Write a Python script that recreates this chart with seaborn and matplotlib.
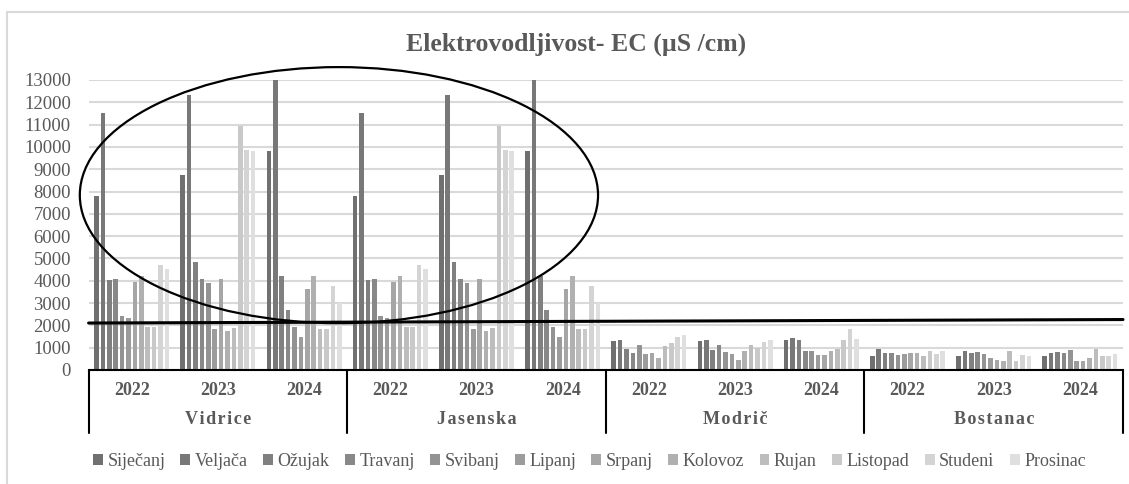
import pandas as pd
import matplotlib.pyplot as plt
import seaborn as sns
from matplotlib.patches import Ellipse, Rectangle
from matplotlib.lines import Line2D
import matplotlib.transforms as mtransforms

##############################################################
# Datos
##############################################################

sites = ['Vidrice', 'Jasenska', 'Modrič', 'Bostanac']
years = ['2022', '2023', '2024']
months = ['Siječanj', 'Veljača', 'Ožujak', 'Travanj', 'Svibanj', 'Lipanj',
          'Srpanj', 'Kolovoz', 'Rujan', 'Listopad', 'Studeni', 'Prosinac']

vidrice_2022 = [7800, 11500, 4050, 4100, 2400, 2320, 3950, 4200, 1950, 1950, 4700, 4550]
vidrice_2023 = [8750, 12350, 4850, 4100, 3880, 1850, 4080, 1760, 1880, 10950, 9850, 9820]
vidrice_2024 = [9830, 13030, 4200, 2680, 1950, 1480, 3650, 4200, 1850, 1850, 3760, 3000]

jasenska_2022 = [7800, 11500, 4050, 4100, 2400, 2320, 3950, 4200, 1950, 1950, 4700, 4550]
jasenska_2023 = [8750, 12350, 4850, 4100, 3880, 1850, 4080, 1760, 1880, 10950, 9850, 9820]
jasenska_2024 = [9830, 13030, 4200, 2680, 1950, 1480, 3650, 4200, 1850, 1850, 3760, 3000]

modric_2022 = [1320, 1350, 950, 740, 1110, 700, 740, 560, 1060, 1230, 1500, 1550]
modric_2023 = [1320, 1360, 880, 1110, 820, 700, 470, 830, 1110, 980, 1270, 1350]
modric_2024 = [1350, 1450, 1360, 830, 830, 670, 670, 860, 940, 1350, 1850, 1390]

bostanac_2022 = [610, 920, 760, 740, 670, 710, 760, 740, 610, 850, 710, 860]
bostanac_2023 = [610, 850, 740, 790, 700, 560, 470, 420, 860, 420, 670, 620]
bostanac_2024 = [610, 740, 790, 740, 880, 420, 420, 560, 920, 610, 610, 710]

values = {
    'Vidrice': [vidrice_2022, vidrice_2023, vidrice_2024],
    'Jasenska': [jasenska_2022, jasenska_2023, jasenska_2024],
    'Modrič': [modric_2022, modric_2023, modric_2024],
    'Bostanac': [bostanac_2022, bostanac_2023, bostanac_2024],
}

colors = ['#707070', '#787878', '#808080', '#888888', '#939393', '#9c9c9c',
          '#a6a6a6', '#b0b0b0', '#bdbdbd', '#c9c9c9', '#d4d4d4', '#dfdfdf']

rows = []
for s in sites:
    for yi, y in enumerate(years):
        for mi, m in enumerate(months):
            rows.append({'grupo': s + ' ' + y, 'mes': m, 'EC': values[s][yi][mi]})
df = pd.DataFrame(rows)

##############################################################
# Gráfica
##############################################################

sns.set_style('white')
plt.rcParams['font.family'] = ['Liberation Serif', 'DejaVu Serif']
gris = '#595959'

fig = plt.figure(figsize=(11.29, 4.84), dpi=100)
ax = fig.add_axes([88.6 / 1129, 1 - 370 / 484, 1034.4 / 1129, 290 / 484])

sns.barplot(data=df, x='grupo', y='EC', hue='mes', palette=colors, ax=ax,
            width=0.89, gap=0.3, linewidth=0, errorbar=None, zorder=2)

ax.set_ylim(0, 13000)
ax.set_xlim(-0.5, 11.5)
ax.set_yticks(range(0, 13001, 1000))
ax.yaxis.grid(True, color='#d9d9d9', linewidth=1.5, zorder=0)
ax.set_axisbelow(True)
ax.tick_params(axis='y', length=0, labelsize=13.5, labelcolor=gris, pad=12.7)
ax.set_xticks([])
ax.set_xlabel('')
ax.set_ylabel('')
for sp in ['top', 'right', 'left']:
    ax.spines[sp].set_visible(False)
ax.spines['bottom'].set_color('black')
ax.spines['bottom'].set_linewidth(1.5)

# etiquetas del eje x (años y sitios)
hair = '\u200a'
trans = mtransforms.blended_transform_factory(ax.transData, ax.transAxes)
for i in range(12):
    ax.text(i, -0.072, years[i % 3], transform=trans, ha='center', va='center',
            fontsize=13, fontweight='bold', color=gris)
for k, s in enumerate(sites):
    ax.text(3 * k + 1, -0.172, hair.join(s), transform=trans,
            ha='center', va='center', fontsize=13, fontweight='bold', color=gris)
for xs in [-0.5, 2.5, 5.5, 8.5, 11.5]:
    ax.add_line(Line2D([xs, xs], [0, -0.217], transform=trans, color='black',
                       linewidth=1.5, clip_on=False))

# anotaciones: elipse y línea
ax.add_patch(Ellipse((0.242, 0.603), 0.501, 0.883, transform=ax.transAxes,
                     fill=False, edgecolor='black', linewidth=1.6, zorder=5, clip_on=False))
ax.add_line(Line2D([0, 1.0], [0.162, 0.174], transform=ax.transAxes,
                   color='black', linewidth=2.2, zorder=5, clip_on=False))

# título
fig.text(0.51, 1 - 44 / 484, 'Elektrovodljivost- EC (µS /cm)', ha='center', va='center',
         fontsize=18.5, fontweight='bold', color=gris)

# leyenda
sns.move_legend(ax, 'center', bbox_to_anchor=(0.522, 1 - 461 / 484),
                bbox_transform=fig.transFigure, ncol=12, frameon=False, title=None,
                fontsize=13, handlelength=0.55, handleheight=0.55,
                handletextpad=0.25, columnspacing=0.85, labelcolor=gris)

# borde del área de la gráfica
fig.patches.append(Rectangle((7 / 1129, -0.1), 1.2, (484 - 12) / 484 + 0.1,
                             transform=fig.transFigure, fill=False,
                             edgecolor='#d9d9d9', linewidth=1.5))

fig.savefig('out.png', dpi=100)
